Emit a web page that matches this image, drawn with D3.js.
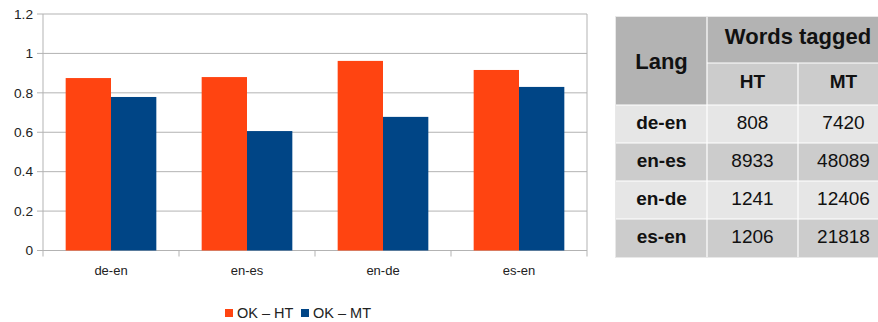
<!DOCTYPE html>
<html>
<head>
<meta charset="utf-8">
<script src="https://cdn.jsdelivr.net/npm/d3@7"></script>
<style>
  html, body { margin: 0; padding: 0; background: #fff; }
  svg { display: block; font-family: "Liberation Sans", Arial, sans-serif; }
</style>
</head>
<body>
<svg id="chart" width="878" height="322"></svg>
<script>
// Chart data
const categories = ["de-en", "en-es", "en-de", "es-en"];
const seriesNames = ["OK – HT", "OK – MT"];
const okHT = [0.875, 0.88, 0.962, 0.916];
const okMT = [0.779, 0.606, 0.678, 0.83];
const yTicks = [0, 0.2, 0.4, 0.6, 0.8, 1, 1.2];
const colors = ["#ff4411", "#004586"];

// Table data
const tableLangs = ["de-en", "en-es", "en-de", "es-en"];
const wordsHT = [808, 8933, 1241, 1206];
const wordsMT = [7420, 48089, 12406, 21818];

const svg = d3.select("#chart");

// ---- Bar chart ----
const plot = { left: 43, right: 587, top: 14, bottom: 250.5 };
const x0 = d3.scaleBand().domain(categories).range([plot.left, plot.right]).paddingInner(0).paddingOuter(0);
const x1 = d3.scaleBand().domain(seriesNames).range([0, x0.bandwidth() * 2 / 3]);
const y = d3.scaleLinear().domain([0, 1.2]).range([plot.bottom, plot.top]);
const grid = "#b3b3b3";

// horizontal gridlines with ticks extending left
svg.append("g").selectAll("line").data(yTicks).join("line")
  .attr("x1", plot.left - 6).attr("x2", plot.right)
  .attr("y1", d => y(d)).attr("y2", d => y(d))
  .attr("stroke", grid).attr("stroke-width", 1);

// y axis labels
svg.append("g").selectAll("text").data(yTicks).join("text")
  .attr("x", 33).attr("y", d => y(d)).attr("dy", "0.35em")
  .attr("text-anchor", "end").attr("font-size", 13.7).attr("fill", "#222")
  .text(d => d3.format("~g")(d));

// bars
const seriesData = [okHT, okMT];
const barG = svg.append("g");
categories.forEach((c, i) => {
  const groupStart = x0(c) + x0.bandwidth() / 6;
  barG.selectAll(null).data(seriesNames).join("rect")
    .attr("x", s => groupStart + x1(s))
    .attr("width", x1.bandwidth())
    .attr("y", (s, j) => y(seriesData[j][i]))
    .attr("height", (s, j) => plot.bottom - y(seriesData[j][i]))
    .attr("fill", (s, j) => colors[j]);
});

// axis lines (left, right frame) and category ticks
svg.append("line").attr("x1", plot.left).attr("x2", plot.left)
  .attr("y1", plot.top).attr("y2", plot.bottom + 6).attr("stroke", grid);
svg.append("line").attr("x1", plot.right).attr("x2", plot.right)
  .attr("y1", plot.top).attr("y2", plot.bottom + 6).attr("stroke", grid);
svg.append("g").selectAll("line").data(categories.slice(1)).join("line")
  .attr("x1", d => x0(d)).attr("x2", d => x0(d))
  .attr("y1", plot.bottom).attr("y2", plot.bottom + 6).attr("stroke", grid);

// category labels
svg.append("g").selectAll("text").data(categories).join("text")
  .attr("x", d => x0(d) + x0.bandwidth() / 2).attr("y", 270).attr("dy", "0.35em")
  .attr("text-anchor", "middle").attr("font-size", 13).attr("fill", "#222")
  .text(d => d);

// legend
const legendX = [225, 301];
const lg = svg.append("g");
seriesNames.forEach((s, i) => {
  lg.append("rect").attr("x", legendX[i]).attr("y", 309)
    .attr("width", 8).attr("height", 8).attr("fill", colors[i]);
  lg.append("text").attr("x", legendX[i] + 12).attr("y", 313).attr("dy", "0.35em")
    .attr("font-size", 14.5).attr("fill", "#222").text(s);
});

// ---- Table ----
const tb = { left: 616, colW: 91, headTop: 17, head1: 46, head2: 42, rowH: 38 };
const tg = svg.append("g");
const rowsTop = tb.headTop + tb.head1 + tb.head2;
const cols = [tb.left, tb.left + tb.colW, tb.left + 2 * tb.colW];

// header cells
tg.append("rect").attr("x", cols[0]).attr("y", tb.headTop)
  .attr("width", tb.colW).attr("height", tb.head1 + tb.head2).attr("fill", "#b3b3b3");
tg.append("rect").attr("x", cols[1]).attr("y", tb.headTop)
  .attr("width", tb.colW * 2).attr("height", tb.head1).attr("fill", "#b3b3b3");
["HT", "MT"].forEach((h, i) => {
  tg.append("rect").attr("x", cols[1 + i]).attr("y", tb.headTop + tb.head1)
    .attr("width", tb.colW).attr("height", tb.head2).attr("fill", "#cccccc");
  tg.append("text").attr("x", cols[1 + i] + tb.colW / 2).attr("y", tb.headTop + tb.head1 + tb.head2 / 2 - 3)
    .attr("dy", "0.35em").attr("text-anchor", "middle").attr("font-size", 19)
    .attr("font-weight", "bold").attr("fill", "#111").text(h);
});
tg.append("text").attr("x", cols[0] + tb.colW / 2).attr("y", tb.headTop + (tb.head1 + tb.head2) / 2)
  .attr("dy", "0.35em").attr("text-anchor", "middle").attr("font-size", 22)
  .attr("font-weight", "bold").attr("fill", "#111").text("Lang");
tg.append("text").attr("x", cols[1] + tb.colW).attr("y", tb.headTop + tb.head1 / 2 - 4)
  .attr("dy", "0.35em").attr("text-anchor", "middle").attr("font-size", 22)
  .attr("font-weight", "bold").attr("fill", "#111").text("Words tagged");

// body rows
tableLangs.forEach((lang, i) => {
  const ry = rowsTop + i * tb.rowH;
  const fill = i % 2 === 0 ? "#e6e6e6" : "#cccccc";
  const cells = [lang, wordsHT[i], wordsMT[i]];
  cells.forEach((v, j) => {
    tg.append("rect").attr("x", cols[j]).attr("y", ry)
      .attr("width", tb.colW).attr("height", tb.rowH).attr("fill", fill);
    tg.append("text").attr("x", cols[j] + tb.colW / 2).attr("y", ry + tb.rowH / 2 - 1.5)
      .attr("dy", "0.35em").attr("text-anchor", "middle").attr("font-size", 19)
      .attr("font-weight", j === 0 ? "bold" : "normal").attr("fill", "#111").text(v);
  });
});

// white cell borders
const tableBottom = rowsTop + tableLangs.length * tb.rowH;
const vLines = [
  { x: cols[1], y1: tb.headTop, y2: tableBottom },
  { x: cols[2], y1: tb.headTop + tb.head1, y2: tableBottom }
];
tg.selectAll("line.v").data(vLines).join("line")
  .attr("x1", d => d.x).attr("x2", d => d.x).attr("y1", d => d.y1).attr("y2", d => d.y2)
  .attr("stroke", "#fff").attr("stroke-width", 1.2);
const hLines = [{ x1: cols[1], y: tb.headTop + tb.head1 }, { x1: cols[0], y: rowsTop }]
  .concat(tableLangs.slice(1).map((_, i) => ({ x1: cols[0], y: rowsTop + (i + 1) * tb.rowH })));
tg.selectAll("line.h").data(hLines).join("line")
  .attr("x1", d => d.x1).attr("x2", cols[0] + 3 * tb.colW).attr("y1", d => d.y).attr("y2", d => d.y)
  .attr("stroke", "#fff").attr("stroke-width", 1.2);
// faint outer frame
tg.append("rect").attr("x", cols[0] - 0.5).attr("y", tb.headTop - 0.5)
  .attr("width", 3 * tb.colW + 1).attr("height", tableBottom - tb.headTop + 1)
  .attr("fill", "none").attr("stroke", "#e8e8e8");
</script>
</body>
</html>
